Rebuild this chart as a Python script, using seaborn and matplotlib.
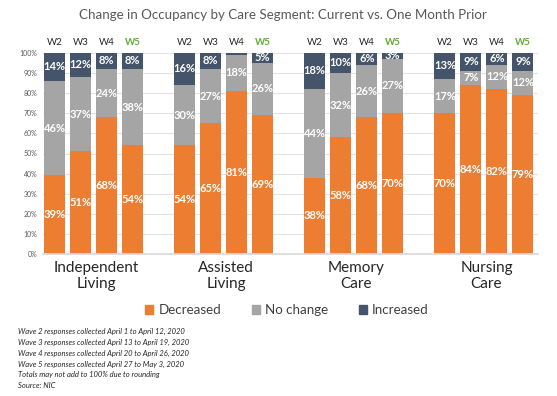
import numpy as np
import pandas as pd
import matplotlib
matplotlib.use("Agg")
import matplotlib.pyplot as plt
import matplotlib.transforms as mtransforms
from matplotlib.patches import Patch
import seaborn as sns

# ---------- DATA ----------
segments = ["Independent\nLiving", "Assisted\nLiving", "Memory\nCare", "Nursing\nCare"]
waves = ["W2", "W3", "W4", "W5"]
decreased = [39, 51, 68, 54,  54, 65, 81, 69,  38, 58, 68, 70,  70, 84, 82, 79]
no_change = [46, 37, 24, 38,  30, 27, 18, 26,  44, 32, 26, 27,  17, 7, 12, 12]
increased = [14, 12, 8, 8,    16, 8, 1, 5,     18, 10, 6, 3,    13, 9, 6, 9]
footnotes = [
    "Wave 2 responses collected April 1 to April 12, 2020",
    "Wave 3 responses collected April 13 to April 19, 2020",
    "Wave 4 responses collected April 20 to April 26, 2020",
    "Wave 5 responses collected April 27 to May 3, 2020",
    "Totals may not add to 100% due to rounding",
    "Source: NIC",
]

C_DEC, C_NO, C_INC = "#ED7D31", "#A5A5A5", "#44546A"
GREEN = "#5FAE32"

sns.set_theme(style="white")
plt.rcParams["font.family"] = ["Lato", "DejaVu Sans"]

# ---------- BUILD TABLE ----------
rows = []
for g in range(len(segments)):
    for w in range(len(waves)):
        i = g * 4 + w
        tot = decreased[i] + no_change[i] + increased[i]
        rows.append(dict(pos=g * 5 + w, wave=waves[w],
                         dec=decreased[i], noc=no_change[i], inc=increased[i],
                         c1=decreased[i] / tot * 100,
                         c2=(decreased[i] + no_change[i]) / tot * 100,
                         c3=100.0))
df = pd.DataFrame(rows)

fig = plt.figure(figsize=(5.57, 3.96), dpi=100)
W, H = 557, 396
top_px, bot_px, left_px, right_px = 52.7, 254.3, 43, 538
ax = fig.add_axes([left_px / W, 1 - bot_px / H, (right_px - left_px) / W, (bot_px - top_px) / H])

# stacked bars: draw the tallest layer first, then overlay
for col, color in [("c3", C_INC), ("c2", C_NO), ("c1", C_DEC)]:
    sns.barplot(data=df, x="pos", y=col, native_scale=True, color=color,
                width=0.8, ax=ax, saturation=1, edgecolor="none", zorder=2)

ax.set_xlim(-0.44, 18.58)
ax.set_ylim(0, 100)
ax.set_yticks(np.arange(0, 101, 10))
ax.set_yticklabels([f"{v}%" for v in range(0, 101, 10)], fontsize=5, color="#595959")
ax.set_xticks([])
ax.set_xlabel("")
ax.set_ylabel("")
ax.grid(axis="y", color="#E3E3E3", lw=0.8, zorder=0)
ax.set_axisbelow(True)
for s in ["top", "right", "left"]:
    ax.spines[s].set_visible(False)
ax.spines["bottom"].set_color("#D9D9D9")
ax.tick_params(axis="y", length=0, pad=4)

# value labels
for _, r in df.iterrows():
    segs = [(r.dec, r.c1 / 2), (r.noc, (r.c1 + r.c2) / 2), (r.inc, (r.c2 + 100) / 2)]
    for v, y in segs:
        if v < 2:
            continue
        ax.text(r.pos, y, f"{v}%", ha="center", va="center", color="white",
                fontsize=8, fontweight="bold", zorder=5)

# wave labels above bars
trans = mtransforms.blended_transform_factory(ax.transData, ax.transAxes)
for _, r in df.iterrows():
    is5 = r.wave == "W5"
    ax.text(r.pos, 1.053, r.wave, transform=trans, ha="center", va="center",
            fontsize=7, color=GREEN if is5 else "#262626",
            fontweight="bold" if is5 else "normal")

# segment labels
for g, name in enumerate(segments):
    ax.text(g * 5 + 1.6, -0.108, name, transform=trans, ha="center", va="center",
            fontsize=11, color="#262626", linespacing=1.15)

fig.text(283 / W, 1 - 15 / H, "Change in Occupancy by Care Segment: Current vs. One Month Prior",
         ha="center", va="center", fontsize=9.6, color="#595959")

handles = [Patch(color=C_DEC, label="Decreased"), Patch(color=C_NO, label="No change"),
           Patch(color=C_INC, label="Increased")]
fig.legend(handles=handles, loc="center", bbox_to_anchor=(287 / W, 1 - 310 / H), ncol=3,
           frameon=False, fontsize=9.6, handlelength=0.6, handleheight=0.6,
           handletextpad=0.4, columnspacing=2.3, labelcolor="#404040")

for k, line in enumerate(footnotes):
    fig.text(18 / W, 1 - (331 + k * 11) / H, line, ha="left", va="center",
             fontsize=5.5, style="italic", color="#262626")

fig.savefig("out.png", dpi=100)
